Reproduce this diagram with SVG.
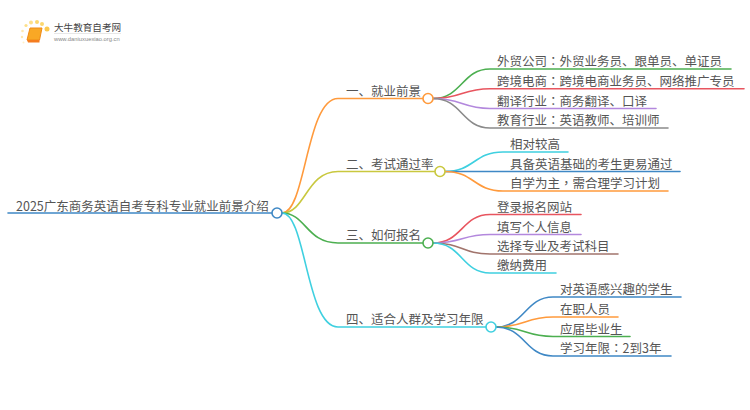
<svg xmlns="http://www.w3.org/2000/svg" width="750" height="410" viewBox="0 0 750 410">
<style>
text{font-family:"Noto Sans CJK SC","Liberation Sans",sans-serif;font-size:12.5px;fill:#555}
.p{font-family:"Noto Sans CJK TC",sans-serif}
.c{fill:none;stroke-width:1.6;stroke-linecap:round}
.n{fill:#fff;stroke-width:1.6}
.blue{stroke:#3f88c5}.or{stroke:#ff9a3c}.yl{stroke:#c9c83e}.gr{stroke:#4caf50}.cy{stroke:#3fd0e0}
.red{stroke:#e8555f}.pu{stroke:#b388dd}.gy{stroke:#8a8a8a}.br{stroke:#a1746c}
</style>
<rect width="750" height="410" fill="#fff"/>
<g id="connectors">
<path class="c blue" d="M8 213H272"/>
<path class="c or" d="M282 213C306 213 306 98.5 338 98.5H423"/>
<path class="c yl" d="M282 213C306 213 306 171.5 338 171.5H435"/>
<path class="c gr" d="M282 213C306 213 306 243 338 243H423"/>
<path class="c cy" d="M282 213C306 213 306 327 338 327H486"/>
<path class="c gr" d="M433 98.5C462 98.5 462 69 490 69H731"/>
<path class="c red" d="M433 98.5C462 98.5 462 88.7 490 88.7H744"/>
<path class="c pu" d="M433 98.5C462 98.5 462 108.500 490 108.500H656"/>
<path class="c gy" d="M433 98.5C462 98.5 462 128 490 128H668"/>
<path class="c cy" d="M445 171.500C474 171.500 474 152 503 152H568"/>
<path class="c blue" d="M445 171.500H680"/>
<path class="c or" d="M445 171.500C474 171.500 474 191 503 191H668"/>
<path class="c red" d="M433 243C462 243 462 214.500 490 214.500H581"/>
<path class="c pu" d="M433 243C462 243 462 234.500 490 234.500H581"/>
<path class="c br" d="M433 243C462 243 462 254 490 254H618"/>
<path class="c cy" d="M433 243C462 243 462 273 490 273H556"/>
<path class="c blue" d="M496 327C525 327 525 297 553 297H681"/>
<path class="c or" d="M496 327C525 327 525 317 553 317H618"/>
<path class="c gr" d="M496 327C525 327 525 336.500 553 336.500H630"/>
<path class="c blue" d="M496 327C525 327 525 356 553 356H671"/>
</g>
<g id="logo">
<circle cx="47" cy="29" r="2.500" fill="#fcc94d"/><circle cx="42" cy="24" r="2" fill="#fcd76e"/><circle cx="37" cy="22" r="2" fill="#fcd76e"/><circle cx="31" cy="22.500" r="2" fill="#fde08a"/><circle cx="26" cy="25.500" r="1.600" fill="#fde08a"/><circle cx="22.500" cy="31" r="1.300" fill="#fee9b0"/><circle cx="22" cy="37" r="1.200" fill="#fee9b0"/><circle cx="23.500" cy="42.500" r="1" fill="#fff0c8"/>
<path d="M30 28H42L39.500 40H27Z" fill="#f9a825" stroke="#ef8a17" stroke-width="1"/>
<path d="M27 40H39.500V42.500H28Z" fill="#f57c1f"/>
<text x="54" y="31" style="font-size:9.6px;fill:#444">大牛教育自考网</text>
<path d="M54 33.500H121" stroke="#ddd" stroke-width="0.700"/>
<text x="54" y="41" style="font-size:5.8px;fill:#888;font-family:'Liberation Sans',sans-serif">www.daniuxuexiao.org.cn</text>
</g>
<g id="root"><text x="16" y="210.500">2025广东商务英语自考专科专业就业前景介绍</text><circle class="n blue" cx="277" cy="213" r="5"/></g>
<g id="b1"><text x="346" y="95.500">一、就业前景</text><circle class="n or" cx="428" cy="98.500" r="5"/></g>
<g id="b2"><text x="346" y="168.500">二、考试通过率</text><circle class="n yl" cx="440" cy="171.500" r="5"/></g>
<g id="b3"><text x="346" y="240">三、如何报名</text><circle class="n gr" cx="428" cy="243" r="5"/></g>
<g id="b4"><text x="346" y="324">四、适合人群及学习年限</text><circle class="n cy" cx="491" cy="327" r="5"/></g>
<g id="l11"><text x="497" y="66">外贸公司<tspan class="p">：</tspan>外贸业务员、跟单员、单证员</text></g>
<g id="l12"><text x="497" y="85.700">跨境电商<tspan class="p">：</tspan>跨境电商业务员、网络推广专员</text></g>
<g id="l13"><text x="497" y="105.500">翻译行业<tspan class="p">：</tspan>商务翻译、口译</text></g>
<g id="l14"><text x="497" y="125">教育行业<tspan class="p">：</tspan>英语教师、培训师</text></g>
<g id="l21"><text x="510" y="149">相对较高</text></g>
<g id="l22"><text x="510" y="168.500">具备英语基础的考生更易通过</text></g>
<g id="l23"><text x="510" y="188">自学为主<tspan class="p">，</tspan>需合理学习计划</text></g>
<g id="l31"><text x="497" y="211.500">登录报名网站</text></g>
<g id="l32"><text x="497" y="231.500">填写个人信息</text></g>
<g id="l33"><text x="497" y="251">选择专业及考试科目</text></g>
<g id="l34"><text x="497" y="270">缴纳费用</text></g>
<g id="l41"><text x="560" y="294">对英语感兴趣的学生</text></g>
<g id="l42"><text x="560" y="314">在职人员</text></g>
<g id="l43"><text x="560" y="333.500">应届毕业生</text></g>
<g id="l44"><text x="560" y="353">学习年限<tspan class="p">：</tspan>2到3年</text></g>
</svg>
